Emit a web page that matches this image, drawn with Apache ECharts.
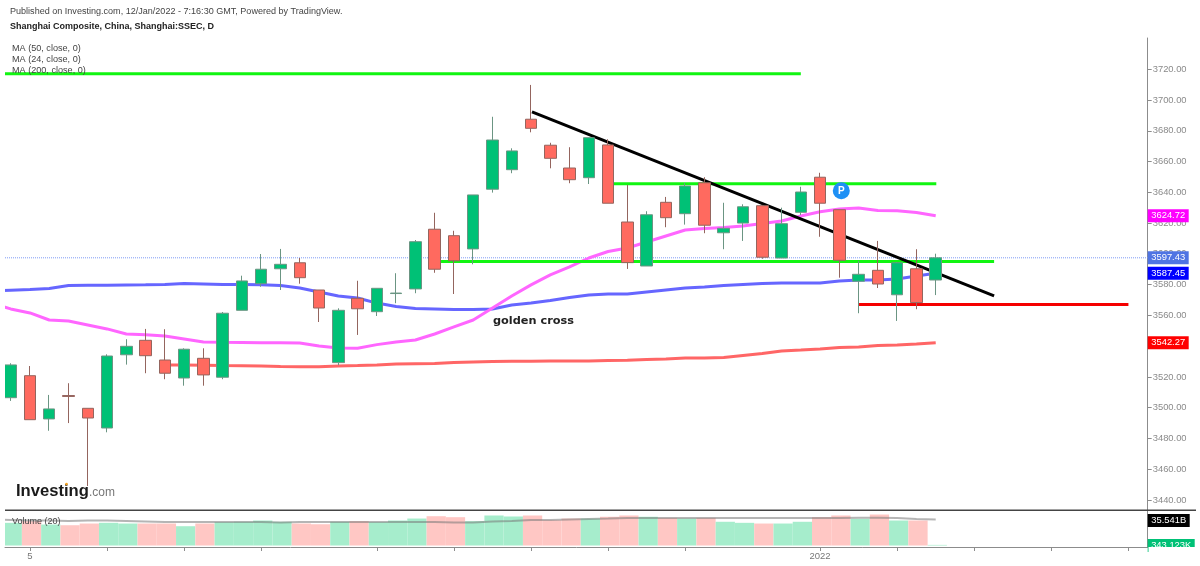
<!DOCTYPE html>
<html><head><meta charset="utf-8">
<style>html,body{margin:0;padding:0;background:#fff}#c{width:1200px;height:566px}</style>
<script src="https://cdn.jsdelivr.net/npm/echarts@6/dist/echarts.min.js"></script>
</head><body><div id="c"></div>
<script>
const opens=[3506.5,3520.8,3492.7,3507.9,3499.6,3486.8,3534.4,3543.8,3531,3519.3,3532.1,3519.8,3563.3,3580.6,3590.3,3594.2,3576.5,3529.3,3571.1,3562.4,3574.2,3577.2,3616,3611.8,3603.2,3642,3654.7,3687.5,3670.6,3655.8,3649.5,3670.8,3620.7,3592.1,3633.5,3626.1,3646.2,3613.7,3620,3631.3,3597.3,3627,3649.8,3628.7,3582.2,3589.3,3573.4,3590.3,3583];
const closes=[3527.8,3492.2,3499.2,3507.3,3493.3,3533.6,3539.9,3533.8,3522.4,3538,3521.3,3561.4,3582.4,3590,3593.2,3584.5,3564.8,3563.3,3564.3,3577.6,3574.5,3607.9,3590,3595.5,3638.3,3674,3666.9,3681.6,3662.1,3648.2,3675.5,3632.9,3594.3,3625.4,3623.5,3644.1,3618.6,3616.6,3630.6,3597.8,3619.6,3640.2,3632.9,3595.8,3586.7,3580.4,3594.2,3568.3,3597.43];
const lows=[3504.4,3492.2,3485,3490,3449.1,3484,3528,3522.4,3518.5,3514.3,3514.3,3518.5,3563.3,3578.6,3576.5,3580.6,3555.7,3527.6,3547.3,3559.6,3567.9,3574.4,3587.7,3573.9,3593.2,3639.8,3652.4,3679,3655.6,3645.9,3645.4,3632.9,3590.2,3592.1,3617.3,3619,3613.4,3603,3608.4,3596.8,3597.3,3625.3,3611.1,3584.5,3561.4,3577.8,3556.4,3564,3573.2];
const highs=[3528.9,3527.1,3508.3,3515.9,3499.6,3534.7,3544.5,3551.2,3551,3538.6,3538.6,3562.2,3585.8,3599.9,3603.2,3597.3,3576.5,3564.6,3582.5,3577.6,3587.4,3609,3626.7,3615,3638.3,3689.1,3668.6,3709.8,3672.2,3669.3,3675.5,3674.5,3644.8,3627.7,3637,3646,3649.8,3633.2,3632.2,3631.8,3630,3643.6,3652.7,3628.7,3595.4,3608.4,3594.7,3603,3600.1];
// moving averages: first value sits one session before the first candle
const ma50=[3576,3576.4,3576.8,3577.5,3579.4,3579.6,3579.6,3579.8,3579.9,3580.1,3580.7,3580.4,3580.1,3580,3579.9,3579.4,3577.8,3575.2,3572.6,3571.3,3568,3565.8,3564.5,3564.2,3563.8,3563.8,3564.2,3566.8,3568,3569.7,3571.6,3573.3,3573.9,3573.9,3575.2,3576.5,3577.8,3578.5,3579.4,3580.1,3580.7,3581,3581,3581,3582.3,3583,3583,3583.7,3585.6,3587.45];
const ma24=[3568,3564.2,3561.6,3557,3556.4,3553.8,3551.2,3547.9,3547.4,3546.6,3544.7,3542.7,3542.5,3542.4,3542.2,3542.2,3542,3540.1,3538.8,3538.6,3541,3542.7,3544,3547.9,3552.5,3557,3564.8,3572.6,3579.8,3586.3,3591.5,3597.3,3601.5,3603.8,3607.7,3611.6,3615.5,3616.5,3617.1,3618.1,3619.7,3621.4,3624.6,3627.4,3629.2,3629.8,3628.2,3628,3626.9,3624.72];
const ma200=[3527.8,3527.8,3527.6,3527.4,3527.3,3527.1,3526.8,3526.6,3526.6,3527.1,3527.4,3527.8,3528.4,3528.6,3528.7,3529.4,3529.7,3530,3530.2,3530.2,3530.4,3530.4,3530.4,3530.7,3530.9,3531.3,3531.7,3532.3,3532.3,3532.6,3533.9,3535.2,3536.9,3537.5,3538.2,3539.1,3539.5,3540.4,3540.8,3541.4,3542.27];
const ma200Start=8;
const volumes=[32.2,34.5,29.8,28.8,31.2,32.2,31.2,31.2,31.2,27.4,31.2,33.1,33.7,35.5,33.7,31.2,30.2,33.7,34.5,33.1,35.5,38.3,41.6,40.2,34.5,42.6,41.2,42.6,35.9,38.3,38.3,40.8,42.6,40.8,39.3,38.3,39.3,33.7,32.2,31.2,31.2,33.7,40.2,42.6,37.9,44,35.5,35.5,0.9];
const volMa=[36.9,36.2,35.5,35.5,34.8,35.5,35.5,34.8,34.1,33.4,33.4,33.4,33.4,33.4,33.4,32.7,33.4,33.4,33.4,33.4,33.4,33.4,33.4,33.4,32.7,32.7,34.1,34.8,36.2,36.2,36.9,37.6,38.3,39.1,39.1,39.1,39.1,39.1,39.1,39.1,39.1,39.1,39.1,39.1,39.1,39.3,39.3,39.1,37.6,36.9];
const priceTicks=[3440,3460,3480,3500,3520,3540,3560,3580,3600,3620,3640,3660,3680,3700,3720];
const timeTicks=[1,5,9,13,19,23,27,31,35,42,46,50,54,58];
const timeLabels={1:'5',42:'2022'};
const lineTop=[[-1,3717],[41,3717]];
const lineMidHigh=[[31.3,3645.5],[48.03,3645.5]];
const lineMidLow=[[22.33,3595],[51.03,3595]];
const lineRed=[[44.02,3567],[58.0,3567]];
const lineBlack=[[27.05,3692.3],[51.03,3572.7]];
const lastPrice=3597.43;
const pivot=[[43.1,3641]];
const priceTags=[[3624.72,'3624.72','#ff00ff'],[3597.43,'3597.43','#4f74e3'],[3587.45,'3587.45','#0000ff'],[3542.27,'3542.27','#ff0000']];
const volTags=[[35.541,'35.541B','#000000',42],[0.000343,'343.123K','#00c176',47]];

const X0=-0.296,X1=59;
const BAR_SHIFT=0.08;
const UP='#00c176',DOWN='#ff6a5f';
const candleData=opens.map((o,i)=>[i,o,closes[i],lows[i],highs[i]]);
const trend=(name,data,color,w,z)=>({name,type:'line',data,xAxisIndex:0,yAxisIndex:0,symbol:'none',silent:true,z,lineStyle:{color,width:w}});
const ma=(name,vals,start,color)=>trend(name,vals.map((v,i)=>[i+start,v]),color,3,2);
const tagSeries=(rows,ax)=>({type:'custom',xAxisIndex:ax,yAxisIndex:ax,z:20,silent:true,
  data:rows.map((r,i)=>[X1,r[0],i]),encode:{x:0,y:1},
  renderItem(p,api){const r=rows[api.value(2)];const c=api.coord([X1,r[0]]);const w=r[3]||41,h=ax===1?13:13;
    return {type:'group',children:[
      {type:'rect',shape:{x:c[0],y:c[1]-h/2,width:w,height:h},style:{fill:r[2]}},
      {type:'text',x:c[0]+w/2,y:c[1],style:{text:r[1],fill:'#fff',font:'9.4px "Liberation Sans"',textAlign:'center',textVerticalAlign:'middle'}}]};}});
const T=(x,y,text,font,fill)=>({type:'text',x,y,z:30,silent:true,style:{text,font,fill,textVerticalAlign:'middle'}});
const R=(x,y,width,height,fill,z)=>({type:'rect',z,silent:true,shape:{x,y,width,height},style:{fill}});

const chart=echarts.init(document.getElementById('c'),null,{renderer:'canvas'});
chart.setOption({
 animation:false,backgroundColor:'#fff',
 grid:[{left:5,width:1142.7,top:38,height:472},{left:5,width:1142.7,top:510,height:37}],
 xAxis:[
  {type:'value',gridIndex:0,min:X0,max:X1,splitLine:{show:false},axisLine:{show:false},axisTick:{show:false},axisLabel:{show:false}},
  {type:'value',gridIndex:1,min:X0,max:X1,splitLine:{show:false},
   axisLine:{show:true,onZero:false,lineStyle:{color:'#8c8c8c',width:1}},
   axisTick:{show:true,length:4,customValues:timeTicks,lineStyle:{color:'#8c8c8c'}},
   axisLabel:{show:true,customValues:[1,42],formatter:v=>timeLabels[v]||'',color:'#777',fontFamily:'Liberation Sans',fontSize:9.5,margin:4}}],
 yAxis:[
  {type:'value',gridIndex:0,position:'right',min:3433.5,max:3740.3,scale:true,splitLine:{show:false},
   axisLine:{show:true,onZero:false,lineStyle:{color:'#8c8c8c',width:1}},
   axisTick:{show:true,length:4,customValues:priceTicks,lineStyle:{color:'#8c8c8c'}},
   axisLabel:{show:true,customValues:priceTicks,formatter:v=>v.toFixed(2),color:'#8a8a8a',fontFamily:'Liberation Sans',fontSize:9.4,margin:5}},
  {type:'value',gridIndex:1,position:'right',min:-2.1,max:50.4,splitLine:{show:false},
   axisLine:{show:true,onZero:false,lineStyle:{color:'#8c8c8c',width:1}},axisTick:{show:false},axisLabel:{show:false}}],
 series:[
  ma('MA (50, close, 0)',ma50,-1,'#6666ff'),
  ma('MA (24, close, 0)',ma24,-1,'#ff66ff'),
  ma('MA (200, close, 0)',ma200,ma200Start,'#ff6666'),
  {name:'Last',type:'line',data:[[X0,lastPrice],[X1,lastPrice]],symbol:'none',silent:true,z:1,lineStyle:{color:'#7f9cf5',width:1,type:'dotted'}},
  trend('Top',lineTop,'#11f511',3,3),
  trend('High',lineMidHigh,'#11f511',3,3),
  trend('Low',lineMidLow,'#11f511',3,3),
  trend('Red',lineRed,'#f50000',3,3),
  trend('Trend',lineBlack,'#000000',3,3),
  {name:'Shanghai Composite',type:'candlestick',xAxisIndex:0,yAxisIndex:0,z:6,barWidth:12,data:candleData,encode:{x:0,y:[1,2,3,4]},silent:true,
   itemStyle:{color:UP,color0:DOWN,borderColor:'#6b9583',borderColor0:'#94655e',borderWidth:1}},
  {name:'P',type:'scatter',xAxisIndex:0,yAxisIndex:0,z:8,data:pivot,symbolSize:17,silent:true,itemStyle:{color:'#1e90f5',opacity:1},
   label:{show:true,position:'inside',formatter:'P',color:'#fff',fontFamily:'Liberation Sans',fontWeight:'bold',fontSize:10}},
  {name:'Volume',type:'bar',xAxisIndex:1,yAxisIndex:1,barWidth:19.27,data:volumes.map((v,i)=>[i+BAR_SHIFT,v]),silent:true,z:2,clip:true,
   itemStyle:{color:p=>closes[p.dataIndex]>=opens[p.dataIndex]?'#a6edcc':'#ffc7c4'}},
  {name:'Volume (20)',type:'line',xAxisIndex:1,yAxisIndex:1,data:volMa.map((v,i)=>[i-1,v]),symbol:'none',silent:true,z:3,lineStyle:{color:'rgba(120,120,120,0.55)',width:2}},
  tagSeries(priceTags,0),
  tagSeries(volTags,1)
 ],
 graphic:[
  R(0,38,5,509,'#fff',15),
  R(1148.5,547,52,12,'#fff',40),
  R(5,509.5,1191,1.5,'#444',25),
  T(10,11.5,'Published on Investing.com, 12/Jan/2022 - 7:16:30 GMT, Powered by TradingView.','9.05px "Liberation Sans"','#444'),
  T(10,26.5,'Shanghai Composite, China, Shanghai:SSEC, D','bold 9px "Liberation Sans"','#222'),
  T(12,48,'MA (50, close, 0)','9.1px "Liberation Sans"','#444'),
  T(12,59,'MA (24, close, 0)','9.1px "Liberation Sans"','#444'),
  T(12,70,'MA (200, close, 0)','9.1px "Liberation Sans"','#444'),
  T(12,521.5,'Volume (20)','9px "Liberation Sans"','#444'),
  T(493,321,'golden cross','bold 11.3px "DejaVu Sans"','#222'),
  T(16,491,'Investing','bold 16.6px "Liberation Sans"','#1a1a1a'),
  T(89,493,'.com','12px "Liberation Sans"','#777'),
  {type:'circle',z:31,silent:true,shape:{cx:66.5,cy:484,r:1.3},style:{fill:'#f7a21b'}}
 ]
});
</script></body></html>
